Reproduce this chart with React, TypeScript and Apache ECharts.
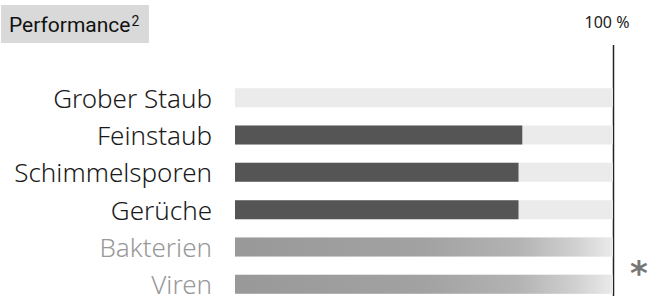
import React, { useEffect, useRef } from "react";
import * as echarts from "echarts";

const categories = ["Grober Staub", "Feinstaub", "Schimmelsporen", "Gerüche", "Bakterien", "Viren"];
const performance = [0, 76, 75, 75, 100, 100];
const fadeRows = ["Bakterien", "Viren"];
const maxValue = 100;
const titleText = "Performance";
const maxLabel = "100 %";

export default function App() {
  const ref = useRef<HTMLDivElement>(null);
  useEffect(() => {
    if (!ref.current) return;
    const chart = echarts.init(ref.current, null, { renderer: "svg" });
    const fade = new echarts.graphic.LinearGradient(0, 0, 1, 0, [
      { offset: 0, color: "#999999" },
      { offset: 0.5, color: "#a2a2a2" },
      { offset: 0.75, color: "#b3b3b3" },
      { offset: 0.9, color: "#d0d0d0" },
      { offset: 1, color: "#ebebeb" },
    ]);
    chart.setOption({
      animation: false,
      grid: { left: 235, right: 44, top: 79, bottom: -7, containLabel: false, outerBoundsMode: "none" },
      xAxis: { type: "value", min: 0, max: maxValue, show: false },
      yAxis: {
        type: "category",
        inverse: true,
        data: categories,
        axisLine: { show: false },
        axisTick: { show: false },
        axisLabel: {
          margin: 23,
          fontFamily: "Noto Sans",
          fontSize: 26,
          fontWeight: 300,
          lineHeight: 20,
          color: (v: string) => (fadeRows.includes(v) ? "#999999" : "#1a1a1a"),
        },
      },
      series: [
        {
          type: "bar",
          barWidth: 19,
          showBackground: true,
          backgroundStyle: { color: "#ebebeb" },
          data: performance.map((v, i) => ({
            value: v,
            itemStyle: { color: fadeRows.includes(categories[i]) ? fade : "#555555" },
          })),
        },
      ],
    });
    const px = chart.convertToPixel({ xAxisIndex: 0 }, maxValue) as number;
    const lastY = chart.convertToPixel({ yAxisIndex: 0 }, categories[categories.length - 1]) as number;
    chart.setOption({
      graphic: [
        {
          type: "rect",
          shape: { x: 1, y: 5, width: 148, height: 38 },
          style: { fill: "#d9d9d9" },
        },
        {
          type: "text",
          x: 9,
          y: 25,
          style: {
            text: titleText + "{sup|2}",
            fontFamily: "Roboto",
            fontSize: 21,
            fill: "#111",
            verticalAlign: "middle",
            rich: { sup: { fontSize: 14, verticalAlign: "top", padding: [0, 0, 9, 1], fontFamily: "Roboto", fill: "#111" } },
          },
        },
        {
          type: "text",
          x: px - 6,
          y: 22,
          style: {
            text: maxLabel,
            fontFamily: "Noto Sans",
            fontSize: 16,
            fill: "#222",
            align: "center",
            verticalAlign: "middle",
          },
        },
        {
          type: "line",
          shape: { x1: px + 0.5, y1: 45, x2: px + 0.5, y2: 296 },
          style: { stroke: "#222", lineWidth: 1.5 },
        },
        {
          type: "text",
          x: px + 26,
          y: lastY - 11,
          style: {
            text: "*",
            fontFamily: "DejaVu Sans",
            fontSize: 34,
            fontWeight: "bold",
            fill: "#777",
            align: "center",
            verticalAlign: "middle",
          },
        },
      ],
    });
    return () => chart.dispose();
  }, []);
  return <div ref={ref} style={{ width: 657, height: 296, position: "absolute", left: 0, top: 0 }} />;
}
